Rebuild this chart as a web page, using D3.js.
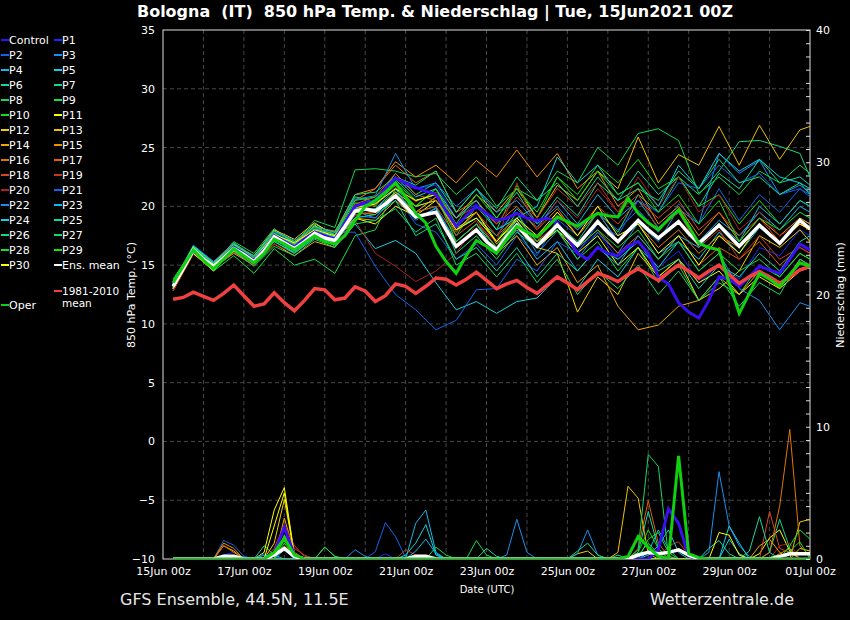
<!DOCTYPE html>
<html>
<head>
<meta charset="utf-8">
<script src="https://cdn.jsdelivr.net/npm/d3@7"></script>
<style>
body { margin: 0; background: #000; }
svg { display: block; font-family: "DejaVu Sans", sans-serif; }
</style>
</head>
<body>
<svg id="chart" width="850" height="620"></svg>
<script>
// forecast hours (run 15Jun2021 00Z), 6-hourly for the main lines
var hours6 = d3.range(6, 385, 6);
// members read at 06z / 18z (plus the last step)
var memberHours = d3.range(6, 379, 12).concat([384]);
var dateTicks = d3.range(0, 385, 48);
var tempTicks = d3.range(-10, 36, 5);
var rainTicks = d3.range(0, 41, 1);

var ensMean = [
  13.2, 14.7, 16.3, 15.5, 14.9, 15.6, 16.4, 15.9,
  15.3, 16.2, 17.4, 16.9, 16.4, 17.0, 17.7, 17.3,
  17.1, 18.3, 19.6, 19.8, 19.6, 20.2, 20.9, 20.0,
  19.1, 19.3, 19.5, 18.0, 16.6, 17.3, 18.0, 17.0,
  16.3, 17.4, 18.4, 17.4, 16.6, 17.5, 18.4, 17.5,
  16.7, 17.7, 18.7, 17.8, 17.0, 17.9, 18.8, 18.0,
  17.3, 18.0, 18.7, 17.7, 16.85, 17.6, 18.4, 17.5,
  16.6, 17.5, 18.4, 17.6, 16.85, 17.8, 18.8, 18.1
];
var climMean = [
  12.1, 12.25, 12.7, 12.35, 12.0, 12.6, 13.3, 12.4,
  11.5, 11.7, 12.65, 11.8, 11.1, 12.0, 13.0, 12.9,
  12.05, 12.2, 13.15, 12.8, 11.9, 12.4, 13.4, 13.2,
  12.6, 13.2, 13.9, 13.8, 13.3, 13.8, 14.4, 13.7,
  13.0, 13.4, 13.7, 13.1, 12.6, 13.3, 14.0, 13.5,
  12.9, 13.6, 14.3, 14.0, 13.6, 14.2, 14.7, 14.2,
  13.7, 14.4, 15.0, 14.5, 13.9, 14.5, 15.0, 14.2,
  13.45, 14.0, 14.45, 14.0, 13.45, 14.0, 14.6, 14.9
];
var operTemp = [
  13.5, 14.9, 16.3, 15.4, 14.7, 15.5, 16.4, 15.8,
  15.2, 16.0, 17.2, 16.8, 16.3, 16.9, 17.5, 17.0,
  16.8, 17.5, 18.8, 20.0, 20.5, 21.2, 22.0, 20.8,
  19.4, 18.6, 16.6, 15.3, 14.3, 15.8, 17.1, 16.6,
  16.0, 17.2, 18.3, 17.8, 17.4, 18.2, 19.1, 18.7,
  18.3, 18.9, 19.4, 19.2, 19.1, 20.7, 19.4, 18.6,
  18.0, 18.9, 19.7, 18.3, 16.85, 16.5, 16.3, 13.5,
  10.9, 12.6, 14.3, 13.8, 13.2, 14.2, 15.2, 14.9
];
var controlTemp = [
  13.3, 14.8, 16.2, 15.5, 14.8, 15.6, 16.5, 16.0,
  15.4, 16.3, 17.5, 17.0, 16.5, 17.2, 17.8, 17.5,
  17.2, 18.6, 20.0, 20.3, 20.5, 21.5, 22.4, 22.0,
  21.6, 21.3, 21.0, 19.6, 18.3, 19.2, 20.0, 19.4,
  18.8, 19.0, 19.4, 19.0, 18.8, 19.0, 18.6, 17.4,
  16.0, 15.5, 16.5, 16.0, 15.8, 16.6, 17.0, 16.0,
  14.0, 13.4, 11.8, 11.0, 10.5, 12.0, 14.0, 13.8,
  13.2, 14.0, 14.9, 14.6, 14.3, 15.5, 16.8, 16.3
];

var memberNames = d3.range(1, 31).map(function(i) { return "P" + i; });
var memberColors = [
  "#1828ff", "#1464ea", "#1890f0", "#14b8e8", "#14d0e0", "#14d8a0", "#14d880", "#14d850", "#14e040", "#14e014",
  "#ffff00", "#f0d000", "#f0c000", "#f0a800", "#f09000", "#e07800", "#e06000", "#d84820", "#c83820", "#b02020",
  "#1464f0", "#1890f0", "#14b8e8", "#14d0e0", "#14d8a0", "#14d880", "#14d860", "#14e030", "#14e014", "#ffff00"
];
var memberTemp = [
  [13.0,16.2,14.7,16.6,15.5,17.6,16.6,17.9,17.4, 19.8,20.5,22.0,21.5,21.8,19.0,20.2,18.0, 19.5,17.0,18.5,16.2,17.8,15.5,17.0,14.8, 16.2,13.5,15.0,13.8,16.5,15.8,18.0,17.5],
  [13.4,16.5,15.0,16.8,15.6,17.8,16.9,18.3,17.0, 19.2,19.0,21.0,18.5,17.8,15.5,16.8,15.0, 17.5,15.8,18.9,17.5,19.4,18.0,19.7,17.8, 20.2,18.5,21.5,18.8,21.0,19.5,21.5,20.8],
  [13.1,16.4,15.2,16.2,15.0,17.2,16.2,17.6,16.8, 19.6,19.0,20.8,18.8,19.9,17.0,18.5,16.5, 18.8,16.0,17.9,15.5,17.8,16.0,18.6,17.0, 19.8,18.5,24.5,22.8,23.9,21.0,21.8,21.2],
  [13.5,16.6,15.3,16.5,15.2,17.3,16.0,17.5,17.3, 20.0,20.3,21.5,20.0,20.5,18.2,19.0,17.5, 19.8,18.2,20.5,18.5,21.0,19.0,20.5,18.2, 19.5,17.0,18.8,17.5,19.5,18.0,20.0,19.5],
  [13.0,16.1,14.6,16.2,15.1,17.1,16.5,17.8,16.6, 18.5,16.4,17.1,16.0,13.5,11.2,11.9,10.9, 11.9,12.2,14.0,13.0,15.5,14.0,16.5,14.8, 17.0,15.5,17.8,16.0,18.2,17.0,19.0,18.5],
  [13.6,16.5,15.0,16.7,15.6,17.9,17.0,18.5,17.6, 20.8,20.4,22.8,21.0,22.0,19.5,21.5,19.0, 21.2,18.5,20.8,19.2,22.0,20.5,23.0,21.0, 22.5,20.0,22.8,21.5,24.0,22.0,22.5,21.8],
  [13.2,16.0,14.9,16.3,15.4,17.0,16.1,17.4,17.0, 19.5,19.8,21.2,19.5,20.0,16.0,17.5,15.5, 17.8,16.5,18.5,17.0,19.5,17.8,21.0,19.5, 22.5,21.0,23.0,25.5,25.6,25.1,24.5,22.5],
  [13.8,16.4,15.1,17.0,16.0,18.1,16.8,18.8,18.2, 23.1,23.2,23.0,22.5,22.8,21.0,22.5,20.0, 21.5,20.5,23.0,22.0,25.0,23.5,26.2,26.6, 25.6,21.1,22.5,21.0,23.0,22.0,23.5,22.8],
  [13.3,16.3,14.5,15.8,14.3,16.4,15.0,15.5,14.3, 17.5,18.0,21.5,20.0,21.5,18.0,19.0,17.0, 19.5,16.5,18.0,15.5,17.0,14.5,16.5,13.5, 15.0,12.0,13.5,12.5,15.0,14.0,16.0,15.5],
  [13.1,16.2,15.0,16.5,15.5,17.5,16.6,17.8,17.5, 20.3,20.0,22.0,20.5,21.0,17.5,20.0,18.0, 21.8,19.0,22.5,21.0,23.5,22.0,24.0,21.5, 22.5,20.0,21.0,18.5,20.5,18.5,20.5,20.0],
  [13.0,16.6,15.1,16.8,15.4,17.7,16.7,18.4,17.2, 19.0,18.5,20.0,19.2,20.5,18.5,19.5,17.0, 18.8,16.5,18.0,16.0,17.5,15.0,16.5,14.0, 15.5,13.5,14.5,12.5,14.0,13.0,14.5,14.8],
  [12.8,16.0,14.8,16.6,15.8,18.0,17.2,18.6,17.5, 19.8,19.5,21.2,20.0,20.5,18.0,19.5,16.8, 18.5,16.5,16.0,11.0,14.0,12.5,16.0,14.0, 15.5,12.0,13.0,14.5,17.5,16.5,18.0,17.0],
  [13.2,16.4,15.2,16.9,15.6,17.5,16.3,17.6,17.0, 19.5,19.3,21.0,19.5,20.8,19.0,21.0,19.5, 21.5,19.0,21.8,20.5,23.0,21.5,25.9,22.0, 24.4,23.5,26.8,23.5,26.9,24.0,26.5,26.8],
  [13.4,16.2,14.8,16.0,15.0,16.8,15.8,17.0,16.5, 19.0,18.8,20.5,19.0,19.5,17.0,18.5,16.0, 17.5,15.0,16.5,13.5,15.0,11.5,9.5,9.9, 11.5,12.0,14.0,12.5,14.5,13.0,15.5,15.0],
  [13.0,16.0,14.6,16.3,15.2,17.3,16.8,18.0,17.8, 21.0,21.5,23.8,22.5,23.5,22.0,23.9,22.5, 24.8,22.5,24.5,21.5,23.0,20.0,21.5,18.5, 20.0,17.5,19.5,17.0,19.0,17.5,19.0,18.5],
  [13.5,16.5,15.0,16.4,15.3,17.6,16.9,18.2,17.9, 20.5,21.5,23.5,22.0,23.0,19.5,20.5,18.5, 20.0,18.0,19.8,17.5,19.5,17.0,18.5,16.5, 18.0,16.0,17.5,16.5,18.5,17.0,18.5,18.0],
  [13.1,16.1,14.7,16.1,15.0,17.2,16.5,17.5,17.2, 20.2,20.8,22.8,21.0,20.5,17.8,19.5,17.5, 19.0,17.0,18.5,16.5,18.0,16.0,17.5,15.5, 17.5,15.0,16.5,15.5,17.0,15.0,16.5,16.0],
  [13.0,16.3,14.9,16.6,15.4,17.3,16.4,17.6,16.9, 19.3,19.5,21.0,19.5,20.0,17.5,18.8,16.5, 18.0,17.0,19.5,18.0,20.0,18.5,20.5,19.0, 20.5,18.0,19.5,17.5,19.0,17.0,18.5,18.0],
  [12.9,16.2,15.1,16.5,15.2,17.2,16.3,17.7,17.3, 19.8,20.1,21.6,20.4,21.2,19.0,20.0,18.5, 20.8,19.0,21.5,20.0,22.0,19.5,21.0,18.0, 19.5,16.5,18.0,15.5,17.5,15.5,16.5,16.0],
  [12.8,15.9,14.8,16.3,15.0,16.8,16.0,17.3,16.7, 18.8,16.0,14.9,13.6,14.5,16.0,18.5,17.0, 22.0,18.0,20.5,19.0,21.5,19.5,22.5,20.0, 22.5,19.5,21.0,18.0,19.5,17.5,18.5,18.0],
  [13.2,16.4,15.1,16.7,15.5,17.6,16.7,18.0,17.8, 17.8,14.9,12.5,11.2,9.5,10.3,12.9,13.0, 15.5,14.5,17.0,16.0,18.5,17.5,20.5,19.5, 22.0,21.5,23.5,22.0,22.8,21.0,21.5,21.0],
  [13.4,16.7,15.3,16.9,15.7,17.9,17.1,18.2,17.6, 20.6,20.9,24.5,21.5,22.0,20.0,21.5,19.5, 20.5,18.5,20.0,18.0,19.5,17.0,18.5,16.0, 17.0,14.5,16.0,13.0,12.0,9.5,11.8,11.5],
  [13.0,16.1,14.8,16.2,15.3,17.3,16.2,17.5,17.2, 19.5,19.8,21.5,19.0,19.8,17.0,18.5,16.0, 18.0,15.5,17.0,14.5,16.5,15.0,17.5,15.5, 17.5,16.5,18.5,17.0,20.0,18.5,20.5,20.0],
  [13.3,16.5,15.0,16.6,15.4,17.5,16.5,17.9,17.4, 20.0,20.5,22.5,20.8,21.5,19.0,20.5,18.0, 19.0,20.0,24.2,22.0,23.5,21.0,22.0,20.0, 23.5,21.5,24.5,23.0,24.0,22.5,22.0,21.5],
  [13.6,16.6,15.2,16.5,15.1,17.0,16.0,17.3,16.9, 19.0,19.3,20.5,17.5,18.5,15.5,16.5,14.5, 16.5,14.0,16.0,14.5,16.5,15.5,17.0,14.5, 15.5,13.0,15.0,14.0,16.0,14.5,17.0,17.5],
  [13.1,16.2,14.9,16.8,15.8,17.9,17.0,18.3,17.8, 21.0,21.2,22.5,21.8,23.0,19.5,21.5,19.8, 22.5,20.5,22.0,20.0,22.5,20.5,21.5,20.5, 23.0,21.5,24.0,22.0,22.5,21.0,22.0,21.0],
  [13.5,16.4,14.8,16.2,14.9,16.6,15.8,17.2,16.5, 18.5,18.8,19.8,17.8,19.0,15.0,16.0,14.0, 16.0,13.5,15.5,12.5,14.5,13.0,15.0,12.5, 14.5,12.0,14.0,11.5,13.5,12.5,15.5,15.0],
  [13.4,16.3,15.0,16.7,15.6,17.7,16.8,18.1,17.6, 20.5,20.8,22.3,20.5,21.0,17.0,18.5,16.5, 19.0,17.0,18.0,16.5,18.0,16.5,18.0,15.5, 17.0,14.5,16.0,14.5,15.5,14.0,16.0,15.5],
  [13.2,16.5,15.1,16.4,15.3,17.4,16.5,17.8,17.3, 19.8,20.2,21.8,20.0,21.5,18.5,21.0,19.0, 21.5,19.5,22.5,20.5,23.0,21.0,22.0,19.5, 21.0,18.5,20.5,17.0,19.0,18.0,19.5,19.0],
  [13.0,16.0,14.5,16.5,15.5,17.6,16.9,18.0,17.5, 19.9,20.2,21.5,20.5,21.0,18.0,19.0,17.0, 19.0,17.5,19.5,17.5,20.0,17.5,18.5,16.0, 17.5,15.0,17.5,16.0,18.5,17.0,18.5,18.0]
];

// precipitation (mm per 6h): [hour, mm], every other 6h step is 0
var controlRain = [[66,0.4],[72,2.4],[78,0.3],[294,0.7],[300,3.8],[306,2.7],[312,0.2]];
var operRain = [[66,0.5],[72,1.55],[78,0.3],[276,0.2],[282,1.7],[288,0.9],[294,0.2],[306,7.8],[312,0.4],[318,0.1]];
var meanRain = [[36,0.2],[42,0.2],[66,0.3],[72,0.8],[78,0.2],[150,0.2],[156,0.2],[282,0.3],[288,0.5],[294,0.4],[300,0.5],[306,0.7],[312,0.3],[366,0.2],[372,0.4],[378,0.4],[384,0.4]];
var memberRain = [
  [[36,0.3],[42,0.5],[132,0.4]],
  [[36,1.4],[42,1.05],[48,0.2],[126,0.55],[132,2.75],[138,1.7],[144,0.1]],
  [[114,0.7],[120,0.2],[204,0.3],[210,3.0],[216,0.5],[324,0.5],[330,6.6],[336,2.5],[342,1.0],[348,0.2]],
  [[150,2.7],[156,3.7],[162,0.5],[288,0.5],[294,2.2],[300,0.8]],
  [[144,0.3],[150,1.2],[156,2.6],[162,0.3],[336,2.5],[342,1.2]],
  [[60,1.0],[66,0.3],[270,0.3],[282,0.5],[288,3.6],[294,0.8]],
  [[96,0.9],[102,0.2],[360,0.5],[366,3.0],[372,0.8]],
  [[162,0.9],[168,0.3],[282,0.3],[288,1.2],[294,0.4]],
  [[96,0.9],[102,0.2],[186,1.4],[192,0.3]],
  [[72,1.5],[78,0.3],[282,0.5],[288,2.2],[294,0.8]],
  [[60,0.5],[66,3.7],[72,5.4],[78,0.3],[354,0.4],[360,1.6],[366,2.2],[372,0.6]],
  [[66,1.2],[72,4.5],[78,0.4],[246,0.4],[252,0.6],[378,0.8],[384,0.6]],
  [[36,1.0],[42,0.6],[270,0.5],[276,5.5],[282,4.6],[288,0.4],[378,2.8],[384,3.0]],
  [[72,3.1],[78,0.5],[354,1.0],[360,1.5],[366,0.5]],
  [[36,1.2],[42,0.8],[366,0.4],[372,0.8]],
  [[360,0.5],[366,4.0],[372,9.8],[378,1.0],[384,0.2]],
  [[36,1.0],[42,0.5],[282,0.8],[288,4.4],[294,1.2],[300,0.2]],
  [[66,0.8],[72,2.6],[78,1.0],[84,0.2],[360,3.6],[366,0.8],[372,0.5]],
  [[72,1.8],[78,0.8],[84,0.3],[144,0.7],[150,0.3],[300,1.0],[306,1.3],[312,0.3]],
  [[72,1.0],[78,0.3],[366,1.0],[372,1.2]],
  [[48,0.2],[60,0.4],[66,0.2]],
  [[246,0.4],[252,2.2],[258,0.3]],
  [[60,0.3],[72,0.7],[150,0.6],[156,1.5],[162,0.4]],
  [[288,0.3],[294,1.0],[300,2.2],[306,0.5],[336,1.5],[342,0.4]],
  [[192,0.8],[198,0.2],[324,0.8],[330,1.4],[336,0.4],[348,0.6],[354,3.2],[360,0.5]],
  [[246,0.6],[252,1.2],[258,0.3]],
  [[282,0.7],[288,7.9],[294,7.0],[300,0.2]],
  [[72,1.8],[78,0.3],[288,1.5],[294,2.0],[300,0.5],[372,1.0],[378,2.2],[384,1.5]],
  [[72,1.2],[78,0.2],[372,0.6],[378,1.3]],
  [[66,2.5],[72,5.0],[78,0.2],[330,2.0],[336,1.8],[342,0.3]]
];

var runStart = Date.UTC(2021, 5, 15, 0);
var fmtDate = d3.utcFormat("%d%b %Hz");

var svg = d3.select("#chart");
svg.append("rect").attr("width", 850).attr("height", 620).attr("fill", "#000");

var x = d3.scaleLinear().domain([0, 384]).range([163, 810]);
var yT = d3.scaleLinear().domain([-10, 35]).range([559, 30]);
var yP = d3.scaleLinear().domain([0, 40]).range([559, 30]);

svg.append("clipPath").attr("id", "plotclip")
  .append("rect").attr("x", 163).attr("y", 30).attr("width", 647).attr("height", 529);

// dashed grid
var grid = svg.append("g").attr("stroke", "#474747").attr("stroke-dasharray", "4,3");
grid.selectAll("line.v").data(d3.range(24, 384, 24)).join("line")
  .attr("x1", function(d) { return x(d); }).attr("x2", function(d) { return x(d); })
  .attr("y1", 30).attr("y2", 559);
grid.selectAll("line.h").data(d3.range(-5, 35, 5)).join("line")
  .attr("x1", 163).attr("x2", 810)
  .attr("y1", function(d) { return yT(d); }).attr("y2", function(d) { return yT(d); });

// axes
var axL = svg.append("g").attr("transform", "translate(163,0)")
  .call(d3.axisLeft(yT).tickValues(tempTicks).tickSize(0).tickPadding(8));
var axB = svg.append("g").attr("transform", "translate(0,559)")
  .call(d3.axisBottom(x).tickValues(dateTicks).tickSize(0).tickPadding(8)
    .tickFormat(function(h) { return fmtDate(new Date(runStart + h * 3600000)); }));
var axR = svg.append("g").attr("transform", "translate(810,0)")
  .call(d3.axisRight(yP).tickValues(rainTicks).tickSize(-4).tickPadding(6)
    .tickFormat(function(d) { return d % 10 === 0 ? d : ""; }));
[axL, axB, axR].forEach(function(a) {
  a.select(".domain").remove();
  a.selectAll("text").attr("fill", "#fff").attr("font-size", 11).attr("font-family", "DejaVu Sans");
  a.selectAll("line").attr("stroke", "#ddd");
});

svg.append("rect").attr("x", 163).attr("y", 30).attr("width", 647).attr("height", 529)
  .attr("fill", "none").attr("stroke", "#ddd").attr("stroke-width", 1);

var plot = svg.append("g").attr("clip-path", "url(#plotclip)");

function rainSeries(events) {
  var m = new Map(events.map(function(e) { return [e[0], e[1]]; }));
  return hours6.map(function(h) { return m.has(h) ? m.get(h) : 0; });
}
function tempLine(hrs) {
  return d3.line().x(function(d, i) { return x(hrs[i]); }).y(function(d) { return yT(d); });
}
var rainLine = d3.line().x(function(d, i) { return x(hours6[i]); }).y(function(d) { return yP(d); });

// precipitation, members
plot.append("g").selectAll("path").data(memberRain).join("path")
  .attr("d", function(d) { return rainLine(rainSeries(d)); })
  .attr("fill", "none").attr("stroke-width", 1)
  .attr("stroke", function(d, i) { return memberColors[i]; });

// temperature, members
plot.append("g").selectAll("path").data(memberTemp).join("path")
  .attr("d", function(d) { return tempLine(memberHours)(d); })
  .attr("fill", "none").attr("stroke-width", 1)
  .attr("stroke", function(d, i) { return memberColors[i]; });

var thick = [
  { t: controlTemp, r: controlRain, c: "#3a10f0", w: 3 },
  { t: climMean, r: null, c: "#f04040", w: 3.5 },
  { t: ensMean, r: meanRain, c: "#ffffff", w: 3.5 },
  { t: operTemp, r: operRain, c: "#10d010", w: 3 }
];
thick.forEach(function(s) {
  if (s.r) {
    plot.append("path").attr("d", rainLine(rainSeries(s.r)))
      .attr("fill", "none").attr("stroke", s.c).attr("stroke-width", s.w);
  }
  plot.append("path").attr("d", tempLine(hours6)(s.t))
    .attr("fill", "none").attr("stroke", s.c).attr("stroke-width", s.w);
});

// legend
var legendItems = [{ n: "Control", c: "#3a10f0" }].concat(memberNames.map(function(n, i) {
  return { n: n, c: memberColors[i] };
}));
var leg = svg.append("g").attr("font-size", 11).attr("fill", "#fff");
legendItems.forEach(function(it, i) {
  var col = i % 2, row = Math.floor(i / 2);
  var lx = col ? 53 : 0, ly = 40 + row * 15;
  leg.append("line").attr("x1", lx + 1).attr("x2", lx + 9).attr("y1", ly).attr("y2", ly)
    .attr("stroke", it.c).attr("stroke-width", 2);
  leg.append("text").attr("x", lx + 9).attr("y", ly).attr("dy", "0.35em").text(it.n);
});
var extras = [
  { x: 53, y: 265, c: "#ffffff", t: ["Ens. mean"], fs: 11 },
  { x: 53, y: 291, c: "#f04040", t: ["1981-2010", "mean"], fs: 10.5 },
  { x: 0, y: 305, c: "#10d010", t: ["Oper"], fs: 11 }
];
extras.forEach(function(e) {
  leg.append("line").attr("x1", e.x + 1).attr("x2", e.x + 9).attr("y1", e.y).attr("y2", e.y)
    .attr("stroke", e.c).attr("stroke-width", 2);
  e.t.forEach(function(t, j) {
    leg.append("text").attr("x", e.x + 9).attr("y", e.y + j * 12.5).attr("dy", "0.35em")
      .attr("font-size", e.fs).text(t);
  });
});

// titles
svg.append("text").attr("x", 435).attr("y", 17).attr("text-anchor", "middle")
  .attr("font-size", 16).attr("font-weight", "bold").attr("fill", "#fff")
  .attr("style", "white-space: pre")
  .attr("textLength", 596).attr("lengthAdjust", "spacingAndGlyphs")
  .text("Bologna  (IT)  850 hPa Temp. & Niederschlag | Tue, 15Jun2021 00Z");
svg.append("text").attr("transform", "translate(135,295) rotate(-90)").attr("text-anchor", "middle")
  .attr("font-size", 11).attr("fill", "#fff").text("850 hPa Temp. (°C)");
svg.append("text").attr("transform", "translate(844,295) rotate(-90)").attr("text-anchor", "middle")
  .attr("font-size", 11).attr("fill", "#fff").text("Niederschlag (mm)");
svg.append("text").attr("x", 487).attr("y", 593).attr("text-anchor", "middle")
  .attr("font-size", 10).attr("fill", "#fff").text("Date (UTC)");
svg.append("text").attr("x", 120).attr("y", 605).attr("font-size", 16).attr("fill", "#e6e6e6")
  .text("GFS Ensemble, 44.5N, 11.5E");
svg.append("text").attr("x", 794).attr("y", 605).attr("text-anchor", "end").attr("font-size", 16)
  .attr("fill", "#e6e6e6").text("Wetterzentrale.de");
</script>
</body>
</html>
